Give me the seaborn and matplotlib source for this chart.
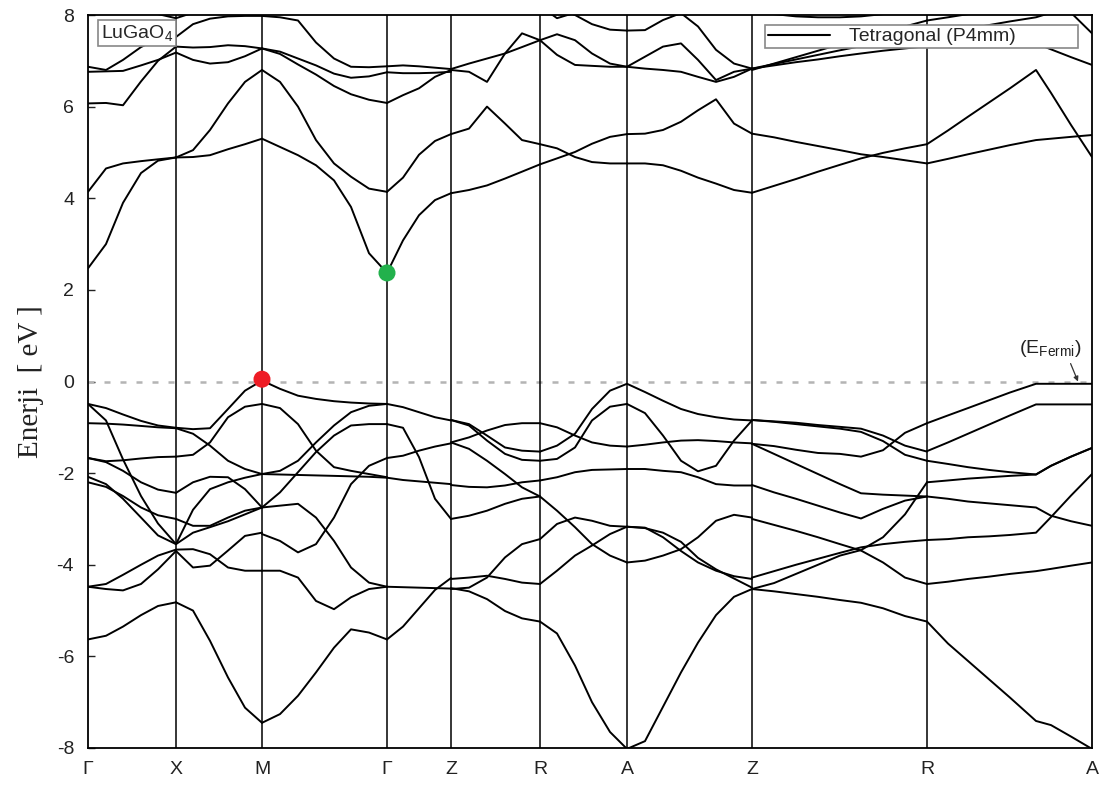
import matplotlib
matplotlib.use("Agg")
import matplotlib.pyplot as plt
import pandas as pd
import seaborn as sns
from matplotlib.lines import Line2D

sns.set_style("ticks")
plt.rcParams["font.family"] = ["Liberation Sans", "DejaVu Sans"]
plt.rcParams["mathtext.fontset"] = "custom"
plt.rcParams["mathtext.rm"] = "Liberation Sans"
plt.rcParams["mathtext.it"] = "Liberation Sans:italic"
plt.rcParams["axes.unicode_minus"] = False

# ---------------- data ----------------
KPTS = [0, 88, 174, 299, 363, 452, 539, 664, 839, 1004]
KLABELS = ["Γ", "X", "M", "Γ", "Z", "R", "A", "Z", "R", "A"]

# Γ - X
k_GX = [0, 18, 35, 53, 70, 88]
E_GX = [
    [2.47, 3.0, 3.9, 4.55, 4.82, 4.89],
    [4.14, 4.65, 4.76, 4.81, 4.85, 4.89],
    [6.07, 6.08, 6.03, 6.55, 7.0, 7.31],
    [6.76, 6.77, 6.78, 6.9, 7.02, 7.18],
    [6.87, 6.8, 7.02, 7.3, 7.48, 7.52],
    [8.6, 8.45, 8.3, 8.15, 8.02, 7.93],
    [-0.49, -0.58, -0.72, -0.86, -0.96, -1.01],
    [-0.91, -0.92, -0.94, -0.97, -1.0, -1.02],
    [-0.49, -0.85, -1.7, -2.5, -3.1, -3.55],
    [-1.67, -1.74, -1.72, -1.68, -1.65, -1.64],
    [-1.67, -1.76, -1.95, -2.2, -2.36, -2.43],
    [-2.08, -2.24, -2.56, -2.97, -3.36, -3.55],
    [-2.2, -2.3, -2.5, -2.75, -2.92, -3.0],
    [-4.48, -4.42, -4.22, -4.0, -3.8, -3.67],
    [-4.48, -4.53, -4.56, -4.42, -4.1, -3.7],
    [-5.63, -5.55, -5.35, -5.1, -4.9, -4.82],
]

# X - M
k_XM = [88, 105, 122, 140, 157, 174]
E_XM = [
    [4.89, 4.9, 4.94, 5.07, 5.18, 5.30],
    [4.89, 5.05, 5.49, 6.07, 6.54, 6.80],
    [7.31, 7.29, 7.3, 7.34, 7.32, 7.27],
    [7.18, 7.02, 6.94, 6.97, 7.1, 7.27],
    [7.52, 7.8, 7.92, 7.97, 7.98, 7.98],
    [7.93, 8.05, 8.2, 8.3, 8.35, 8.4],
    [-1.01, -1.04, -1.02, -0.6, -0.2, 0.02],
    [-1.02, -1.14, -1.4, -1.73, -1.91, -2.02],
    [-1.64, -1.6, -1.33, -0.78, -0.55, -0.49],
    [-2.43, -2.2, -2.08, -2.09, -2.35, -2.75],
    [-3.0, -3.15, -3.15, -2.97, -2.82, -2.75],
    [-3.55, -2.8, -2.35, -2.2, -2.1, -2.02],
    [-3.55, -3.3, -3.18, -3.05, -2.9, -2.75],
    [-3.67, -3.66, -3.77, -4.06, -4.13, -4.13],
    [-3.7, -4.06, -4.02, -3.69, -3.37, -3.3],
    [-4.82, -5.0, -5.66, -6.46, -7.12, -7.45],
]

# M - Γ
k_MG = [174, 192, 210, 228, 246, 263, 281, 299]
E_MG = [
    [5.30, 5.12, 4.94, 4.72, 4.39, 3.81, 2.8, 2.37],
    [6.80, 6.54, 6.0, 5.27, 4.76, 4.47, 4.21, 4.14],
    [7.27, 7.2, 7.05, 6.9, 6.72, 6.63, 6.66, 6.75],
    [7.27, 7.15, 6.92, 6.7, 6.45, 6.27, 6.15, 6.08],
    [7.98, 7.95, 7.88, 7.4, 7.05, 6.87, 6.86, 6.88],
    [0.02, -0.16, -0.31, -0.38, -0.43, -0.46, -0.48, -0.49],
    [-2.02, -1.95, -1.73, -1.33, -0.96, -0.67, -0.53, -0.49],
    [-0.49, -0.58, -0.93, -1.51, -1.87, -1.95, -2.02, -2.09],
    [-2.75, -2.42, -1.98, -1.54, -1.18, -0.96, -0.93, -0.93],
    [-2.02, -2.03, -2.04, -2.05, -2.06, -2.07, -2.08, -2.1],
    [-3.33, -3.48, -3.73, -3.55, -2.97, -2.24, -1.84, -1.67],
    [-2.75, -2.71, -2.67, -2.97, -3.48, -4.06, -4.39, -4.48],
    [-4.13, -4.13, -4.28, -4.79, -4.97, -4.71, -4.53, -4.48],
    [-7.45, -7.26, -6.86, -6.35, -5.81, -5.41, -5.48, -5.63],
]

# Γ - Z
k_GZ = [299, 315, 331, 347, 363]
E_GZ = [
    [2.37, 3.08, 3.63, 3.96, 4.11],
    [4.14, 4.45, 4.95, 5.25, 5.40],
    [6.08, 6.25, 6.4, 6.65, 6.80],
    [6.75, 6.73, 6.73, 6.74, 6.76],
    [6.88, 6.9, 6.88, 6.85, 6.82],
    [-0.49, -0.56, -0.67, -0.78, -0.85],
    [-0.93, -1.01, -1.65, -2.56, -3.0],
    [-1.67, -1.62, -1.51, -1.42, -1.35],
    [-2.1, -2.15, -2.18, -2.21, -2.24],
    [-4.48, -4.49, -4.5, -4.51, -4.52],
    [-5.63, -5.35, -4.95, -4.55, -4.29],
]

# Z - R
k_ZR = [363, 381, 399, 417, 434, 452]
E_ZR = [
    [4.11, 4.18, 4.28, 4.43, 4.58, 4.74],
    [5.40, 5.52, 6.0, 5.63, 5.27, 5.18],
    [6.80, 6.76, 6.54, 7.16, 7.6, 7.45],
    [6.82, 6.94, 7.05, 7.16, 7.3, 7.45],
    [-0.84, -0.93, -1.18, -1.44, -1.51, -1.53],
    [-0.84, -0.96, -1.29, -1.58, -1.71, -1.73],
    [-1.33, -1.22, -1.07, -0.95, -0.91, -0.91],
    [-1.33, -1.47, -1.73, -2.02, -2.31, -2.51],
    [-2.26, -2.3, -2.31, -2.27, -2.2, -2.16],
    [-3.0, -2.93, -2.82, -2.67, -2.56, -2.51],
    [-4.31, -4.28, -4.24, -4.31, -4.39, -4.42],
    [-4.53, -4.5, -4.28, -3.84, -3.55, -3.44],
    [-4.51, -4.58, -4.75, -5.01, -5.17, -5.24],
]

# R - A
k_RA = [452, 469, 487, 504, 522, 539]
E_RA = [
    [4.74, 4.87, 5.01, 5.19, 5.34, 5.40],
    [5.18, 5.09, 4.9, 4.79, 4.76, 4.76],
    [7.45, 7.58, 7.45, 7.16, 6.94, 6.87],
    [7.45, 7.13, 6.91, 6.89, 6.87, 6.87],
    [8.3, 8.15, 8.0, 7.8, 7.68, 7.66],
    [8.2, 7.93, 8.05, 8.3, 8.5, 8.6],
    [-0.91, -1.0, -1.18, -1.33, -1.4, -1.42],
    [-1.53, -1.4, -1.14, -0.6, -0.2, -0.05],
    [-1.73, -1.69, -1.44, -0.85, -0.55, -0.49],
    [-2.16, -2.09, -1.98, -1.93, -1.92, -1.91],
    [-2.51, -2.82, -3.18, -3.55, -3.8, -3.95],
    [-3.44, -3.11, -2.97, -3.04, -3.15, -3.17],
    [-4.42, -4.13, -3.8, -3.58, -3.33, -3.17],
    [-5.24, -5.5, -6.2, -7.0, -7.65, -8.02],
]

# A - Z
k_AZ = [539, 557, 575, 593, 610, 628, 646, 664]
E_AZ = [
    [5.40, 5.41, 5.49, 5.67, 5.92, 6.16, 5.63, 5.41],
    [4.76, 4.76, 4.72, 4.6, 4.45, 4.32, 4.18, 4.12],
    [6.87, 7.09, 7.31, 7.38, 7.02, 6.58, 6.76, 6.83],
    [6.87, 6.83, 6.8, 6.76, 6.65, 6.54, 6.65, 6.83],
    [7.66, 7.67, 7.89, 8.04, 7.75, 7.24, 6.94, 6.83],
    [-0.05, -0.23, -0.42, -0.6, -0.71, -0.78, -0.83, -0.85],
    [-0.49, -0.69, -1.18, -1.73, -1.96, -1.84, -1.29, -0.85],
    [-1.42, -1.38, -1.33, -1.29, -1.28, -1.3, -1.33, -1.35],
    [-1.91, -1.91, -1.95, -1.98, -2.09, -2.24, -2.27, -2.27],
    [-3.17, -3.19, -3.4, -3.7, -3.95, -4.13, -4.25, -4.31],
    [-3.17, -3.2, -3.3, -3.5, -3.85, -4.1, -4.3, -4.5],
    [-3.95, -3.91, -3.8, -3.66, -3.4, -3.04, -2.91, -2.97],
    [-8.02, -7.85, -7.1, -6.35, -5.7, -5.1, -4.7, -4.53],
]

# Z - R (second)
k_ZR2 = [664, 686, 708, 730, 752, 773, 795, 817, 839]
E_ZR2 = [
    [5.41, 5.33, 5.23, 5.14, 5.05, 4.96, 4.9, 4.83, 4.76],
    [4.12, 4.27, 4.42, 4.58, 4.73, 4.87, 4.99, 5.09, 5.18],
    [6.83, 6.9, 6.97, 7.03, 7.1, 7.16, 7.22, 7.27, 7.32],
    [6.83, 6.93, 7.03, 7.13, 7.23, 7.32, 7.4, 7.48, 7.56],
    [6.80, 6.94, 7.08, 7.22, 7.36, 7.5, 7.63, 7.75, 7.88],
    [8.2, 8.02, 7.97, 7.95, 7.95, 7.97, 8.02, 8.1, 8.2],
    [-0.84, -0.87, -0.9, -0.95, -0.99, -1.03, -1.18, -1.4, -1.53],
    [-0.84, -0.88, -0.93, -0.98, -1.03, -1.1, -1.3, -1.6, -1.73],
    [-1.36, -1.41, -1.49, -1.56, -1.58, -1.64, -1.5, -1.12, -0.91],
    [-1.36, -1.58, -1.8, -2.02, -2.24, -2.44, -2.47, -2.49, -2.51],
    [-2.26, -2.42, -2.56, -2.71, -2.86, -2.99, -2.78, -2.6, -2.51],
    [-3.0, -3.13, -3.26, -3.4, -3.55, -3.69, -3.95, -4.28, -4.42],
    [-4.28, -4.14, -4.0, -3.87, -3.74, -3.62, -3.55, -3.5, -3.46],
    [-4.53, -4.4, -4.2, -4.0, -3.8, -3.68, -3.4, -2.9, -2.2],
    [-4.53, -4.58, -4.64, -4.7, -4.77, -4.83, -4.95, -5.12, -5.24],
]

# R - A (second)
k_RA2 = [839, 860, 880, 901, 922, 948, 963, 983, 1004]
E_RA2 = [
    [5.18, 5.48, 5.78, 6.09, 6.4, 6.8, 6.3, 5.6, 4.9],
    [4.76, 4.86, 4.96, 5.06, 5.16, 5.27, 5.3, 5.34, 5.38],
    [7.32, 7.33, 7.35, 7.36, 7.37, 7.38, 7.25, 7.08, 6.91],
    [7.56, 7.63, 7.7, 7.78, 7.86, 7.95, 8.05, 8.15, 8.25],
    [7.88, 7.95, 8.02, 8.1, 8.15, 8.2, 8.2, 8.05, 7.6],
    [-0.91, -0.74, -0.58, -0.41, -0.24, -0.05, -0.05, -0.05, -0.05],
    [-1.52, -1.33, -1.14, -0.94, -0.74, -0.5, -0.5, -0.5, -0.5],
    [-1.73, -1.8, -1.87, -1.93, -1.98, -2.03, -1.84, -1.64, -1.45],
    [-2.2, -2.16, -2.12, -2.09, -2.06, -2.03, -1.84, -1.64, -1.45],
    [-2.51, -2.56, -2.62, -2.66, -2.7, -2.75, -2.93, -3.05, -3.15],
    [-3.46, -3.44, -3.4, -3.38, -3.35, -3.3, -2.96, -2.49, -2.02],
    [-4.42, -4.37, -4.31, -4.26, -4.2, -4.14, -4.09, -4.02, -3.95],
    [-5.24, -5.72, -6.1, -6.5, -6.9, -7.41, -7.5, -7.75, -8.02],
]

EXTREMA_K = [174, 299]
EXTREMA_E = [0.05, 2.37]
EXTREMA_C = ["#ee1c25", "#22b14c"]

SEGMENTS = [
    (k_GX, E_GX), (k_XM, E_XM), (k_MG, E_MG), (k_GZ, E_GZ), (k_ZR, E_ZR),
    (k_RA, E_RA), (k_AZ, E_AZ), (k_ZR2, E_ZR2), (k_RA2, E_RA2),
]

rows = []
lid = 0
for ks, bands in SEGMENTS:
    for band in bands:
        for k, e in zip(ks, band):
            rows.append((lid, k, e))
        lid += 1
df = pd.DataFrame(rows, columns=["line", "k", "E"])

# ---------------- plot ----------------
fig = plt.figure(figsize=(11.1, 7.85), dpi=100)
ax = fig.add_axes([88 / 1110, 37 / 785, 1004 / 1110, 733 / 785])

ax.axhline(0, color="#b4b4b4", lw=1.8, dashes=(2.4, 4.0), zorder=1)
for kp in KPTS[1:-1]:
    ax.axvline(kp, color="black", lw=1.1, zorder=2)

sns.lineplot(data=df, x="k", y="E", units="line", estimator=None, sort=False,
             color="black", lw=1.4, ax=ax, legend=False, zorder=3)

sns.scatterplot(x=EXTREMA_K, y=EXTREMA_E, hue=EXTREMA_C, palette=EXTREMA_C,
                s=150, linewidth=0, legend=False, ax=ax, zorder=5)

ax.set_xlim(KPTS[0], KPTS[-1])
ax.set_ylim(-8, 8)
ax.set_xticks(KPTS)
ax.set_xticklabels(KLABELS)
ax.set_yticks(range(-8, 9, 2))
ax.tick_params(axis="y", direction="in", length=5, width=1, pad=10,
               labelsize=14, colors="#222222")
ax.tick_params(axis="x", length=0, pad=9, labelsize=14, colors="#222222")
for sp in ax.spines.values():
    sp.set_linewidth(1.3)
    sp.set_color("black")
ax.set_xlabel("")
ax.set_ylabel("Enerji  [ eV ]", family=["Liberation Serif"], fontsize=21,
              color="#222222")
ax.yaxis.set_label_coords(-0.044, 0.5)

handle = Line2D([], [], color="black", lw=1.5)
leg = ax.legend([handle], ["Tetragonal (P4mm)"], loc="upper left",
                bbox_to_anchor=(0.674, 0.9864, 0.312, 0.0), mode="expand",
                borderaxespad=0, fancybox=False, edgecolor="#888888",
                framealpha=1, fontsize=14, handlelength=3.2,
                handletextpad=1.0, borderpad=0.15)
leg.get_frame().set_linewidth(1.2)

ax.text(0.013, 0.989, "LuGaO$_4$", transform=ax.transAxes, ha="left", va="top",
        fontsize=14, zorder=6,
        bbox=dict(boxstyle="square,pad=0.15", fc="white", ec="#888888", lw=1.2))

ax.annotate("(E$_{\\mathrm{Fermi}}$)", xy=(990, 0.0), xytext=(962, 0.72),
            ha="center", va="center", fontsize=14, color="#222222",
            arrowprops=dict(arrowstyle="-|>", mutation_scale=7, color="#333333",
                            lw=0.9, relpos=(0.8, 0.0), shrinkA=1, shrinkB=0))

fig.savefig("out.png", dpi=100)
